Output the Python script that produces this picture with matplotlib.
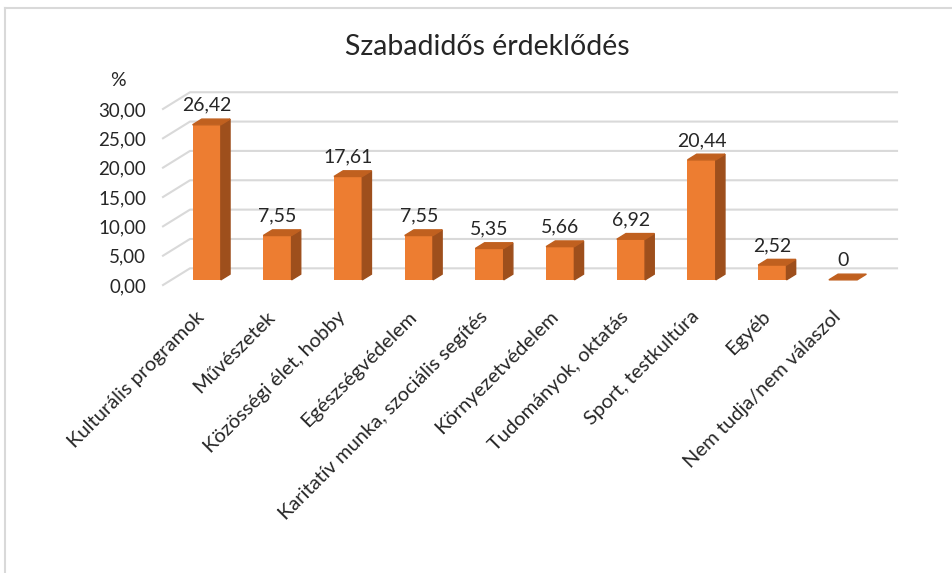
import matplotlib.pyplot as plt
from matplotlib.patches import Polygon
from matplotlib.lines import Line2D

plt.rcParams['font.family'] = ['Lato', 'DejaVu Sans']

categories = ['Kulturális programok', 'Művészetek', 'Közösségi élet, hobby',
              'Egészségvédelem', 'Karitatív munka, szociális segítés',
              'Környezetvédelem', 'Tudományok, oktatás', 'Sport, testkultúra',
              'Egyéb', 'Nem tudja/nem válaszol']
values = [26.42, 7.55, 17.61, 7.55, 5.35, 5.66, 6.92, 20.44, 2.52, 0]
value_labels = ['26,42', '7,55', '17,61', '7,55', '5,35', '5,66', '6,92', '20,44', '2,52', '0']
yticks = [0, 5, 10, 15, 20, 25, 30]

front_col = '#ED7D31'
side_col = '#9E4F1C'
top_col = '#C0601F'
grid_col = '#D9D9D9'
text_col = '#262626'

# depth of the 3d box in data units (x: categories, y: percent)
dx, dy = 0.382, 2.85
f0, f1 = 0.31, 0.65
w = 0.40

fig = plt.figure(figsize=(9.52, 5.73), dpi=100)
ax = fig.add_axes([163 / 952, 0.5005, 735.3 / 952, 197.8 / 573])
ax.set_xlim(-0.5, 9.9)
ax.set_ylim(-0.2, 33.5)

n = len(categories)
# gridlines: diagonal on left side wall, then along back wall
for v in yticks:
    ax.plot([-0.5, -0.5 + dx, n - 0.5 + dx], [v, v + dy, v + dy],
            color=grid_col, lw=1.5, clip_on=False, zorder=1)

for i, v in enumerate(values):
    x0 = i - w / 2 + f0 * dx
    y0 = f0 * dy
    ox, oy = (f1 - f0) * dx, (f1 - f0) * dy
    if v > 0:
        ax.bar(x0, v, width=w, bottom=y0, align='edge', color=front_col,
               zorder=3, clip_on=False)
        side = Polygon([(x0 + w, y0), (x0 + w + ox, y0 + oy),
                        (x0 + w + ox, y0 + v + oy), (x0 + w, y0 + v)],
                       closed=True, color=side_col, zorder=3, clip_on=False)
        ax.add_patch(side)
    top = Polygon([(x0, y0 + v), (x0 + w, y0 + v), (x0 + w + ox, y0 + v + oy),
                   (x0 + ox, y0 + v + oy)],
                  closed=True, color=top_col, zorder=3, clip_on=False)
    ax.add_patch(top)
    ax.annotate(value_labels[i], (x0 + w / 2, y0 + v), xytext=(0, 14),
                textcoords='offset points', ha='center', va='center',
                fontsize=14, color=text_col)

ax.set_yticks(yticks)
ax.set_yticklabels([('%.2f' % t).replace('.', ',') for t in yticks],
                   fontsize=13.5, color=text_col)
ax.tick_params(axis='y', length=0, pad=12)

ax.set_xticks([i + 0.05 for i in range(n)])
ax.set_xticklabels(categories, rotation=45, ha='right', va='center',
                   rotation_mode='anchor', fontsize=14.5, color=text_col)
ax.tick_params(axis='x', length=0, pad=20)

for s in ax.spines.values():
    s.set_visible(False)
ax.patch.set_visible(False)

fig.text(118 / 952, 1 - 80 / 573, '%', ha='center', va='center',
         fontsize=14, color=text_col)
fig.text(487 / 952, 1 - 47 / 573, 'Szabadidős érdeklődés', ha='center',
         va='center', fontsize=20.5, color=text_col)

# chart frame (only left and top edges visible)
fig.add_artist(Line2D([5 / 952, 5 / 952], [0, 1 - 8 / 573], color=grid_col, lw=1.5))
fig.add_artist(Line2D([5 / 952, 1], [1 - 8 / 573, 1 - 8 / 573], color=grid_col, lw=1.5))

fig.savefig('out.png', dpi=100)
